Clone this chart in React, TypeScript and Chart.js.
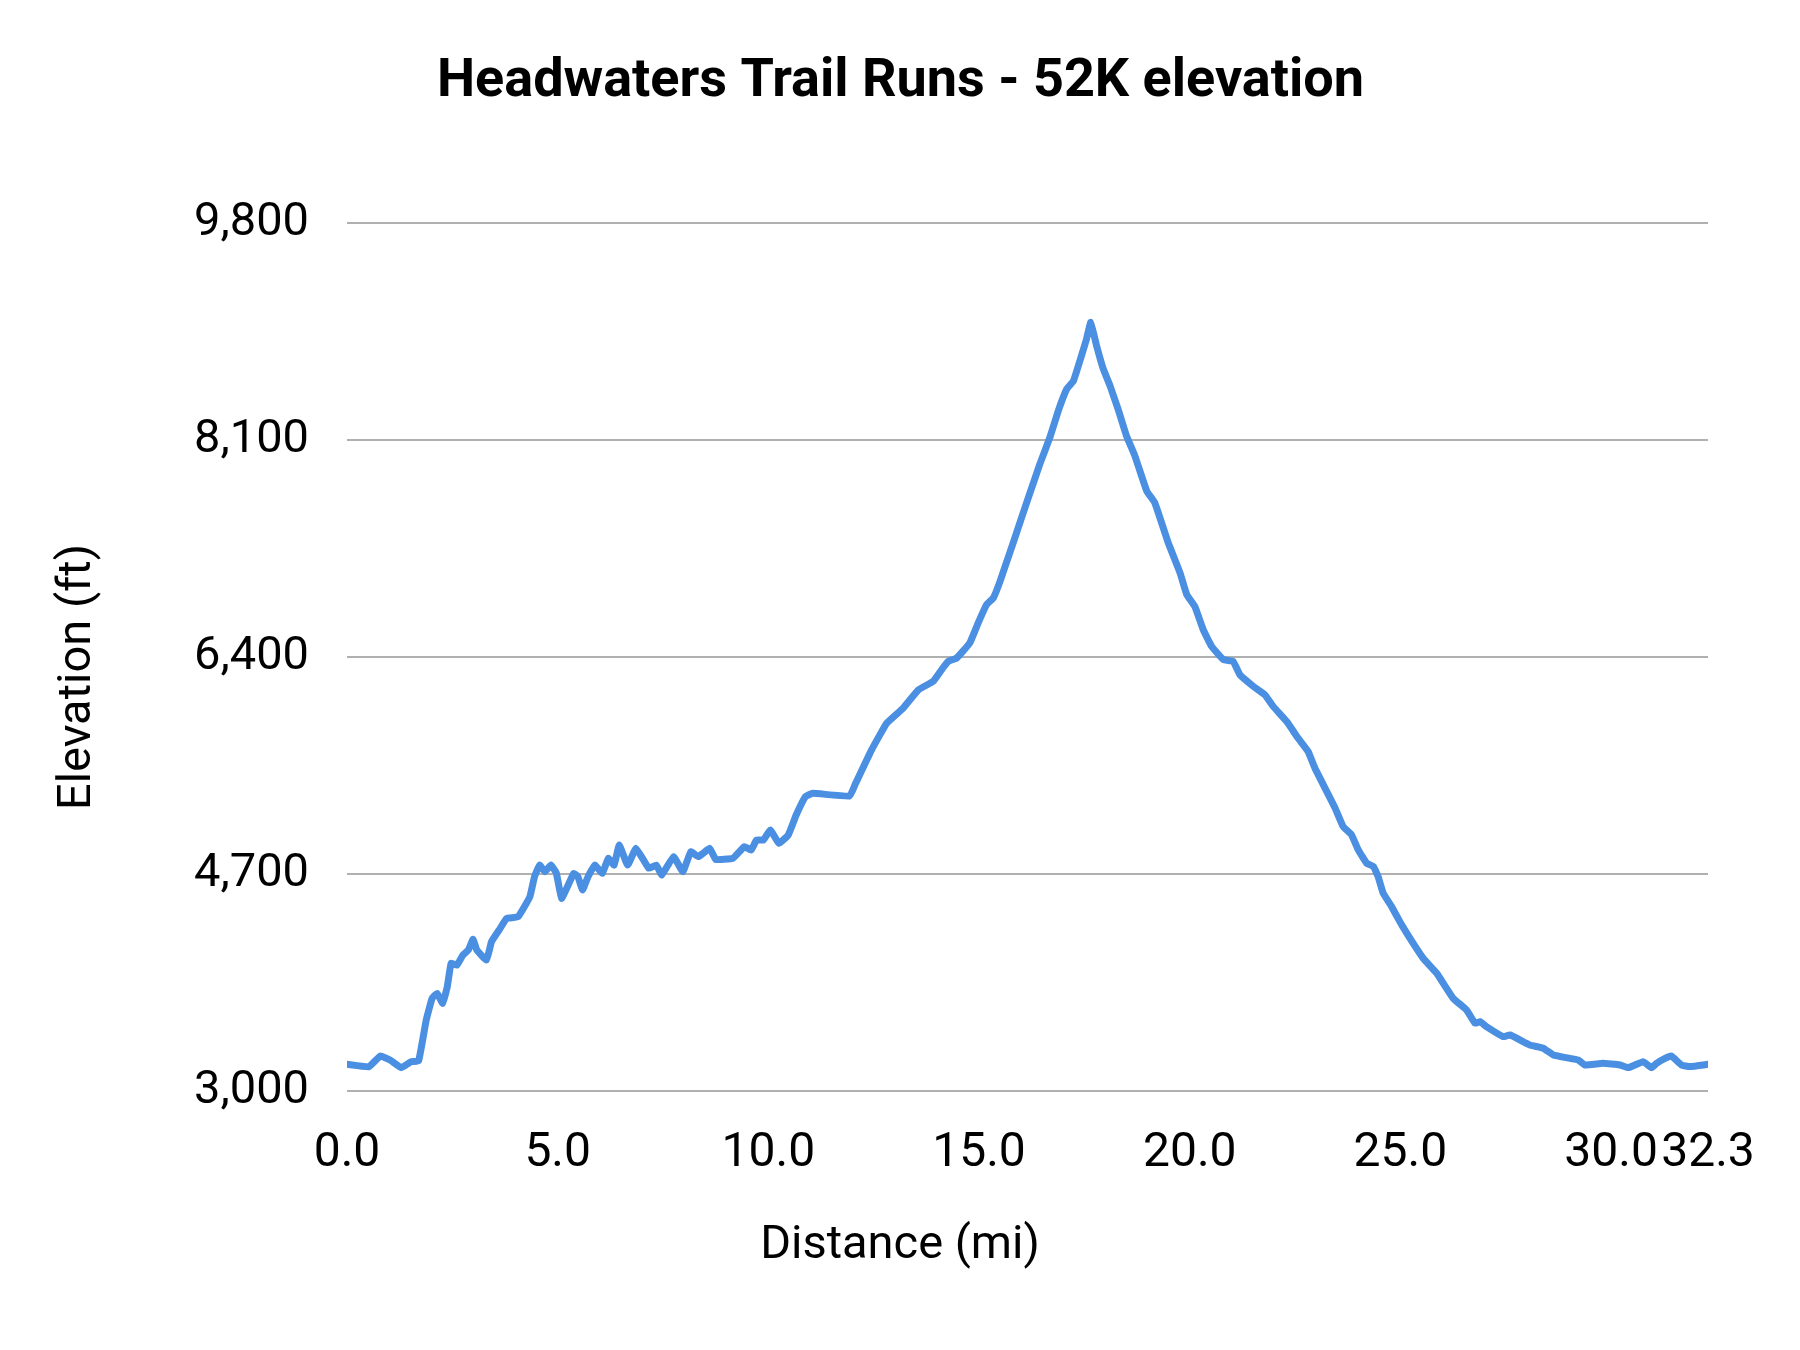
import { useEffect, useRef } from "react";
import { Chart, registerables } from "chart.js";

Chart.register(...registerables);

const chartTitle = "Headwaters Trail Runs - 52K elevation";
const xAxisTitle = "Distance (mi)";
const yAxisTitle = "Elevation (ft)";

const xTickValues = [0, 5, 10, 15, 20, 25, 30, 32.3];
const yMin = 3000;
const yMax = 9800;
const yStep = 1700;

const distanceMi = [
  0.0, 0.52, 0.79, 1.02, 1.29, 1.52, 1.7, 1.88, 2.02, 2.14, 2.27, 2.38, 2.47, 2.61, 2.75, 2.88, 2.99, 3.08,
  3.31, 3.43, 3.61, 3.79, 4.06, 4.34, 4.45, 4.57, 4.7, 4.84, 4.97, 5.09, 5.25, 5.38, 5.48, 5.59, 5.72, 5.88,
  6.06, 6.2, 6.34, 6.46, 6.66, 6.86, 7.16, 7.34, 7.47, 7.75, 7.97, 8.16, 8.34, 8.61, 8.75, 9.16, 9.43, 9.59,
  9.72, 9.88, 10.05, 10.25, 10.47, 10.66, 10.88, 11.05, 11.93, 12.07, 12.45, 12.81, 13.2, 13.56, 13.91, 14.11,
  14.27, 14.47, 14.78, 14.98, 15.18, 15.34, 15.5, 15.81, 16.17, 16.44, 16.68, 16.88, 17.08, 17.24, 17.43,
  17.55, 17.65, 17.79, 17.95, 18.11, 18.3, 18.5, 18.7, 18.98, 19.17, 19.49, 19.77, 19.93, 20.12, 20.32, 20.52,
  20.8, 21.03, 21.19, 21.51, 21.78, 21.98, 22.3, 22.57, 22.81, 22.97, 23.25, 23.45, 23.64, 23.84, 24.0, 24.2,
  24.36, 24.47, 24.59, 24.79, 25.03, 25.3, 25.54, 25.86, 26.25, 26.57, 26.77, 26.89, 27.04, 27.44, 27.6,
  28.07, 28.39, 28.63, 29.02, 29.22, 29.38, 29.81, 30.21, 30.41, 30.76, 30.96, 31.08, 31.28, 31.43, 31.67,
  31.87, 32.3,
];

const elevationFt = [
  3209, 3190, 3274, 3243, 3183, 3230, 3237, 3556, 3726, 3765, 3687, 3817, 4000, 3987, 4065, 4105, 4188, 4105,
  4026, 4170, 4261, 4352, 4365, 4522, 4679, 4770, 4718, 4770, 4705, 4509, 4614, 4705, 4679, 4575, 4679, 4770,
  4705, 4823, 4770, 4927, 4770, 4901, 4745, 4770, 4692, 4836, 4718, 4875, 4836, 4901, 4814, 4823, 4914, 4888,
  4966, 4966, 5045, 4940, 5005, 5162, 5306, 5332, 5311, 5410, 5673, 5882, 6000, 6143, 6209, 6300,
  6366, 6392, 6510, 6667, 6811, 6863, 6994, 7295, 7648, 7909, 8119, 8328, 8498, 8563, 8759,
  8890, 9021, 8838, 8655, 8524, 8341, 8131, 7974, 7700, 7609, 7295, 7059, 6889, 6797, 6614, 6483,
  6379, 6366, 6261, 6170, 6105, 6013, 5895, 5765, 5660, 5530, 5347, 5216, 5072, 5007, 4889, 4784,
  4758, 4680, 4550, 4445, 4301, 4158, 4040, 3923, 3727, 3635, 3531, 3543, 3504, 3426, 3439,
  3361, 3335, 3282, 3256, 3243, 3204, 3217, 3204, 3183, 3230, 3183, 3217, 3256, 3274, 3204,
  3191, 3209,
];

const lineColor = "#4a8fe1";
const gridColor = "#b0b0b0";
const textColor = "#000000";
const fontFamily = "Roboto, 'Noto Sans', sans-serif";

export default function App() {
  const canvasRef = useRef<HTMLCanvasElement | null>(null);

  useEffect(() => {
    if (!canvasRef.current) return;

    const axisTitlesPlugin = {
      id: "axisTitlesPlugin",
      afterDraw(chart: any) {
        const { ctx, chartArea } = chart;
        // y axis title
        ctx.save();
        ctx.translate(90, (chartArea.top + chartArea.bottom) / 2 + 20);
        ctx.rotate(-Math.PI / 2);
        ctx.font = `47px ${fontFamily}`;
        ctx.fillStyle = textColor;
        ctx.textAlign = "center";
        ctx.textBaseline = "alphabetic";
        ctx.fillText(yAxisTitle, 0, 0);
        ctx.restore();
        // x axis title (centred on the whole canvas)
        ctx.save();
        ctx.font = `47px ${fontFamily}`;
        ctx.fillStyle = textColor;
        ctx.textAlign = "center";
        ctx.textBaseline = "middle";
        ctx.fillText(xAxisTitle, 900, 1246);
        ctx.restore();
      },
    };

    const chart = new Chart(canvasRef.current, {
      type: "line",
      data: {
        datasets: [
          {
            data: distanceMi.map((d, i) => ({ x: d, y: elevationFt[i] })),
            borderColor: lineColor,
            backgroundColor: lineColor,
            borderWidth: 7,
            pointRadius: 0,
            tension: 0.1,
            fill: false,
            borderCapStyle: "round",
            borderJoinStyle: "round",
            yAxisID: "y",
          },
        ],
      },
      options: {
        animation: false,
        responsive: false,
        devicePixelRatio: 1,
        layout: { padding: { top: 0, right: 0, bottom: 0, left: 1 } },
        plugins: {
          legend: { display: false },
          tooltip: { enabled: false },
          title: {
            display: true,
            text: chartTitle,
            color: textColor,
            font: { family: fontFamily, size: 54, weight: "bold" },
            padding: { top: 50, bottom: 108.2 },
          },
        },
        scales: {
          x: {
            type: "linear",
            min: 0,
            max: 32.3,
            afterBuildTicks: (scale: any) => {
              scale.ticks = xTickValues.map((v) => ({ value: v }));
            },
            afterFit: (scale: any) => {
              scale.height = 259;
            },
            ticks: {
              autoSkip: false,
              maxRotation: 0,
              minRotation: 0,
              padding: 34,
              color: textColor,
              font: { family: fontFamily, size: 48 },
              callback: (v: any) => Number(v).toFixed(1),
            },
            grid: { display: false, drawTicks: false },
            border: { display: false },
            title: { display: false },
          },
          y: {
            type: "linear",
            position: "left",
            min: yMin,
            max: yMax,
            afterFit: (scale: any) => {
              scale.width = 346;
            },
            ticks: {
              stepSize: yStep,
              padding: 38,
              color: textColor,
              font: { family: fontFamily, size: 47 },
              callback: (v: any) => Number(v).toLocaleString("en-US"),
            },
            grid: { color: gridColor, lineWidth: 2, drawTicks: false },
            border: { display: false },
          },
          yRight: {
            type: "linear",
            position: "right",
            min: yMin,
            max: yMax,
            afterFit: (scale: any) => {
              scale.width = 92;
            },
            ticks: { display: false },
            grid: { display: false, drawTicks: false },
            border: { display: false },
          },
        },
      },
      plugins: [axisTitlesPlugin],
    } as any);

    return () => chart.destroy();
  }, []);

  return (
    <div style={{ position: "absolute", left: 0, top: 0, width: 1800, height: 1350, background: "#fff" }}>
      <canvas ref={canvasRef} width={1800} height={1350} style={{ width: 1800, height: 1350 }} />
    </div>
  );
}
